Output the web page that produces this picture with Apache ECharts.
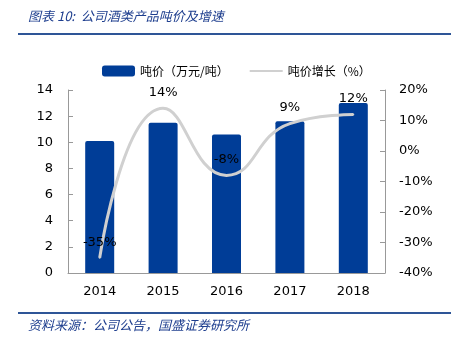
<!DOCTYPE html>
<html><head><meta charset="utf-8">
<script src="https://cdn.jsdelivr.net/npm/echarts@6/dist/echarts.min.js"></script>
<style>html,body{margin:0;padding:0;background:#fff}#c{width:451px;height:344px}</style>
</head><body><div id="c"></div>
<script>
var categories = ['2014','2015','2016','2017','2018'];
var pricePerTon = [10.1, 11.5, 10.6, 11.6, 13.0];
var priceGrowth = [-35, 14, -8, 9, 12];
var leftTicks = [0, 14, 2];
var rightTicks = [-40, 20, 10];

var chart = echarts.init(document.getElementById('c'));
var font = 'Tahoma, "DejaVu Sans", "Noto Sans CJK SC", sans-serif';
chart.setOption({
  animation: false,
  textStyle: {fontFamily: font},
  graphic: [
    {type:'text', left: 28, top: 10, style:{text:'图表 10:  公司酒类产品吨价及增速', fill:'#1F3F8F', font:'italic 13px "Noto Sans CJK SC"'}},
    {type:'rect', shape:{x:18, y:33, width:433, height:2}, style:{fill:'#2E5597'}},
    {type:'rect', shape:{x:18, y:312, width:433, height:2}, style:{fill:'#2E5597'}},
    {type:'text', left: 28, top: 319, style:{text:'资料来源：公司公告，国盛证券研究所', fill:'#1F3F8F', font:'italic 13px "Noto Sans CJK SC"'}}
  ],
  legend: {
    top: 60, left: 97, itemGap: 20, itemWidth: 33, itemHeight: 11,
    textStyle: {fontSize: 12, color: '#000', fontFamily: '"Noto Sans CJK SC"'},
    data: [
      {name:'吨价（万元/吨）', icon:'roundRect'},
      {name:'吨价增长（%）', itemStyle:{opacity:0}}
    ]
  },
  grid: {left: 68, right: 66, top: 90, bottom: 71},
  xAxis: {
    type: 'category', data: categories,
    axisLine: {lineStyle:{color:'#999'}},
    axisTick: {inside: true, length: 5, lineStyle:{color:'#999'}},
    axisLabel: {color:'#000', fontSize: 13, margin: 12}
  },
  yAxis: [
    {type:'value', min: leftTicks[0], max: leftTicks[1], interval: leftTicks[2],
     splitLine:{show:false}, axisLine:{show:true, lineStyle:{color:'#999'}},
     axisTick:{show:true, inside:true, length:5, lineStyle:{color:'#999'}},
     axisLabel:{color:'#000', fontSize: 13, margin: 15}},
    {type:'value', min: rightTicks[0], max: rightTicks[1], interval: rightTicks[2],
     splitLine:{show:false}, axisLine:{show:true, lineStyle:{color:'#999'}},
     axisTick:{show:true, inside:true, length:5, lineStyle:{color:'#999'}},
     axisLabel:{color:'#000', fontSize: 13, margin: 14, formatter:'{value}%'}}
  ],
  series: [
    {name:'吨价（万元/吨）', type:'bar', data: pricePerTon, barWidth: 29,
     itemStyle:{color:'#003D97', borderRadius:[2,2,0,0]}},
    {name:'吨价增长（%）', type:'line', yAxisIndex:1, data: priceGrowth, smooth: 0.5,
     symbol:'circle', symbolSize: 2, showSymbol: true, z: 3,
     lineStyle:{color:'#D0D0D0', width:3}, itemStyle:{color:'#D0D0D0'},
     label:{show:true, position:'top', distance: 8, color:'#000', fontSize: 13, formatter:'{c}%'}}
  ]
});
</script></body></html>
